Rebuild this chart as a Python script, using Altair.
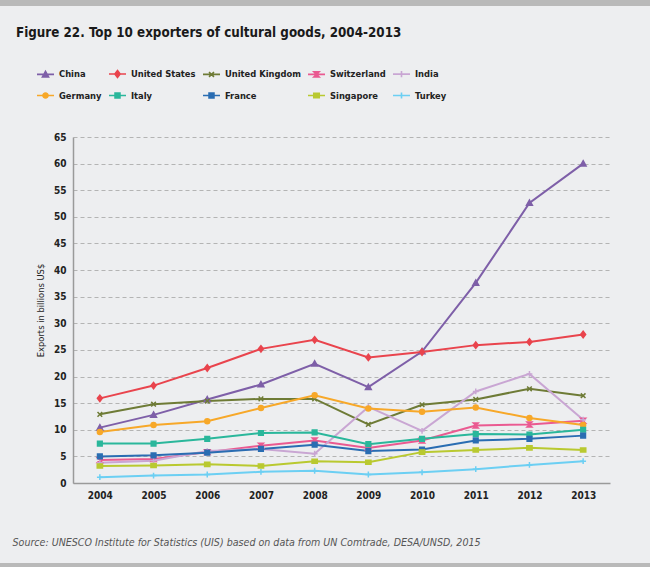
import altair as alt
import pandas as pd

years = [2004, 2005, 2006, 2007, 2008, 2009, 2010, 2011, 2012, 2013]
countries = ["China", "United States", "United Kingdom", "Switzerland", "India",
             "Germany", "Italy", "France", "Singapore", "Turkey"]
china = [10.4, 12.8, 15.7, 18.5, 22.4, 18.0, 24.7, 37.6, 52.6, 60.0]
united_states = [15.9, 18.3, 21.6, 25.2, 26.9, 23.6, 24.6, 25.9, 26.5, 27.9]
united_kingdom = [12.9, 14.8, 15.4, 15.8, 15.8, 11.0, 14.7, 15.7, 17.7, 16.4]
switzerland = [4.3, 4.5, 5.8, 7.0, 8.0, 6.6, 8.0, 10.8, 11.0, 11.7]
india = [3.8, 4.2, 6.0, 6.4, 5.5, 14.3, 9.8, 17.2, 20.5, 11.9]
germany = [9.6, 10.9, 11.6, 14.1, 16.5, 14.0, 13.4, 14.2, 12.2, 10.9]
italy = [7.4, 7.4, 8.3, 9.4, 9.5, 7.3, 8.3, 9.2, 9.1, 10.0]
france = [5.0, 5.2, 5.7, 6.4, 7.2, 6.0, 6.3, 8.0, 8.3, 8.9]
singapore = [3.2, 3.3, 3.5, 3.2, 4.1, 3.9, 5.8, 6.2, 6.6, 6.2]
turkey = [1.1, 1.4, 1.6, 2.1, 2.3, 1.6, 2.0, 2.6, 3.4, 4.1]
series = [china, united_states, united_kingdom, switzerland, india,
          germany, italy, france, singapore, turkey]

colors = ["#7e5fa8", "#e9444d", "#6e7b36", "#ea5a91", "#c9a6d3",
          "#f7a829", "#2ab79b", "#2a6db2", "#b9c930", "#6ccff3"]

y_ticks = list(range(0, 70, 5))
title_text = "Figure 22. Top 10 exporters of cultural goods, 2004-2013"
y_title = "Exports in billions US$"
source_text = "Source: UNESCO Institute for Statistics (UIS) based on data from UN Comtrade, DESA/UNSD, 2015"

rows = []
for c, vals in zip(countries, series):
    for yr, v in zip(years, vals):
        rows.append({"country": c, "year": str(yr), "value": v})
df = pd.DataFrame(rows)

FONT = "DejaVu Sans Condensed, Roboto, sans-serif"

# marker glyphs (plot) and the same glyphs with a line segment (legend)
marker_paths = [
    "M0,-1L1,0.8L-1,0.8Z",
    "M0,-1.1L0.85,0L0,1.1L-0.85,0Z",
    "M-0.8,-0.8L0.8,0.8M-0.8,0.8L0.8,-0.8",
    "M-0.85,-0.85H0.85L-0.85,0.85H0.85Z",
    "M-1,0H1M0,-1V1",
    "M-0.85,0A0.85,0.85 0 1,0 0.85,0A0.85,0.85 0 1,0 -0.85,0Z",
    "M-0.8,-0.8H0.8V0.8H-0.8Z",
    "M-0.8,-0.8H0.8V0.8H-0.8Z",
    "M-0.9,-0.7H0.9V0.7H-0.9Z",
    "M-1,0H1M0,-1V1",
]
legend_paths = [
    "M-1,0H1M0,-0.36L0.36,0.29L-0.36,0.29Z",
    "M-1,0H1M0,-0.4L0.31,0L0,0.4L-0.31,0Z",
    "M-1,0H1M-0.29,-0.29L0.29,0.29M-0.29,0.29L0.29,-0.29",
    "M-1,0H1M-0.31,-0.31H0.31L-0.31,0.31H0.31Z",
    "M-1,0H1M0,-0.36V0.36",
    "M-1,0H1M-0.3,0A0.3,0.3 0 1,0 0.3,0A0.3,0.3 0 1,0 -0.3,0Z",
    "M-1,0H1M-0.29,-0.29H0.29V0.29H-0.29Z",
    "M-1,0H1M-0.29,-0.29H0.29V0.29H-0.29Z",
    "M-1,0H1M-0.32,-0.25H0.32V0.25H-0.32Z",
    "M-1,0H1M0,-0.36V0.36",
]

color_scale = alt.Scale(domain=countries, range=colors)
legend = alt.Legend(
    title=None, orient="none", legendX=-37, legendY=-73, direction="horizontal",
    columns=5, columnPadding=3, rowPadding=5, symbolSize=289, symbolStrokeWidth=1.6,
    symbolOpacity=1,
    labelFont=FONT, labelFontSize=9.3, labelFontWeight="bold", labelColor="#222222",
    labelOffset=4,
)

x = alt.X("year:O", scale=alt.Scale(type="point", padding=0.5),
          axis=alt.Axis(title=source_text, labelAngle=0, labelFont=FONT, labelFontSize=10,
                        labelFontWeight="bold", labelColor="#222222", labelPadding=7,
                        ticks=False, domainColor="#9a9a9a", domainWidth=1.5, grid=False,
                        titleFont=FONT, titleFontSize=10.6, titleFontStyle="italic",
                        titleFontWeight="normal", titleColor="#555555",
                        titleAnchor="start", titleAlign="left", titleBaseline="alphabetic",
                        titleX=-61, titleY=62))
y = alt.Y("value:Q", scale=alt.Scale(domain=[0, 65], nice=False, zero=True),
          axis=alt.Axis(values=y_ticks, title=y_title, labelFont=FONT, labelFontSize=10,
                        labelFontWeight="bold", labelColor="#222222", labelPadding=7,
                        ticks=False, domainColor="#9a9a9a", domainWidth=1.5,
                        gridColor="#a5a5a5", gridDash=[4, 3], gridWidth=0.8,
                        titleFont=FONT, titleFontSize=9.3, titleFontWeight="normal",
                        titleColor="#222222", titlePadding=8))

base = alt.Chart(df).encode(x=x, y=y)
lines = base.mark_line(strokeWidth=2).encode(
    color=alt.Color("country:N", scale=color_scale, legend=None), detail="country:N")
points = base.mark_point(filled=True, size=34, strokeWidth=1.5, opacity=1).encode(
    color=alt.Color("country:N", scale=color_scale, legend=None),
    stroke=alt.Stroke("country:N", scale=color_scale, legend=None),
    shape=alt.Shape("country:N", scale=alt.Scale(domain=countries, range=marker_paths), legend=None),
)
legend_layer = base.mark_point(filled=True, size=34, strokeWidth=1.6, opacity=1).encode(
    color=alt.Color("country:N", scale=color_scale, legend=legend),
    stroke=alt.Stroke("country:N", scale=color_scale, legend=legend),
    shape=alt.Shape("country:N", scale=alt.Scale(domain=countries, range=legend_paths), legend=legend),
).transform_filter("false")

# decorative page bands (top and bottom edge of the figure frame)
band_df = pd.DataFrame({"k": [0]})
top_band = alt.Chart(band_df).mark_rect(color="#b9b9b9").encode(
    x=alt.value(-73), x2=alt.value(577), y=alt.value(-137), y2=alt.value(-131))
bottom_band = alt.Chart(band_df).mark_rect(color="#b9b9b9").encode(
    x=alt.value(-73), x2=alt.value(577), y=alt.value(426), y2=alt.value(430))

chart = alt.layer(top_band, bottom_band, lines, points, legend_layer).resolve_scale(
    shape="independent", color="independent", stroke="independent"
).properties(
    width=537, height=346,
    padding={"left": 73, "top": 137, "right": 40, "bottom": 84},
    autosize="none",
    background="#edeef0",
    title=alt.TitleParams(text=title_text, anchor="start", frame="group", dx=-57,
                          font=FONT, fontSize=13.3, fontWeight="bold", color="#1a1a1a",
                          offset=25, dy=64),
).configure_view(stroke=None)

chart.save("out.html", embed_options={"renderer": "svg", "actions": False})
